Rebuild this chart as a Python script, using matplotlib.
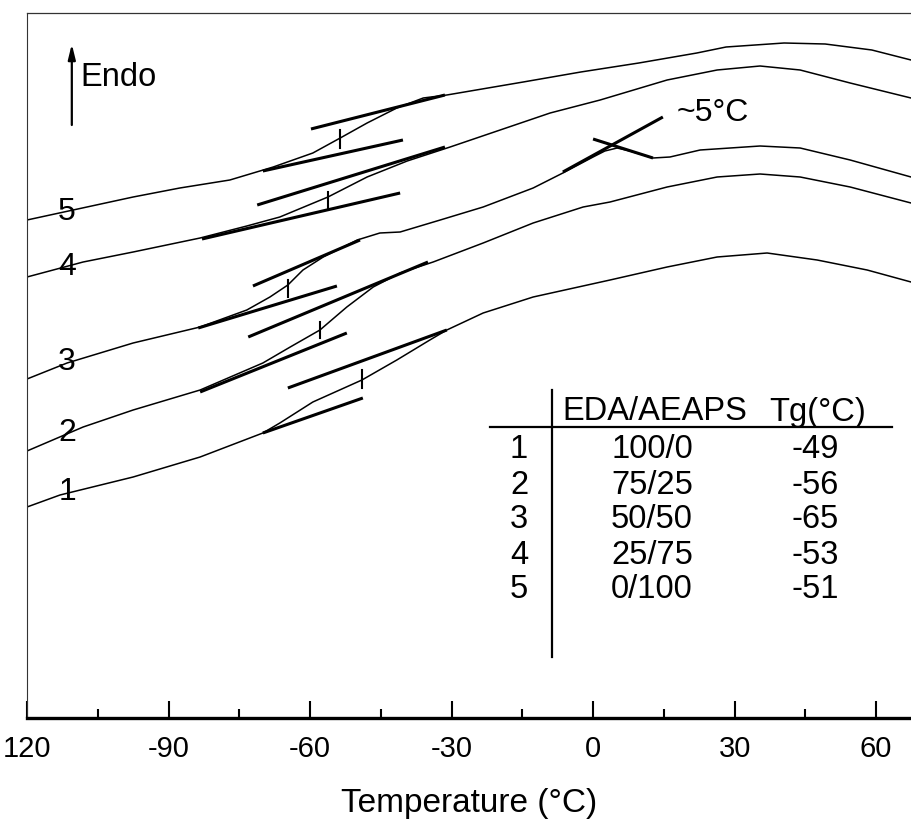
import matplotlib
matplotlib.use("Agg")
import matplotlib.pyplot as plt
from matplotlib.ticker import MultipleLocator

plt.rcParams['font.family'] = ['Liberation Sans', 'DejaVu Sans']

# DSC curves (temperature in degC, heat flow in arbitrary units)
t1 = [-120, -113, -97.5, -83.3, -70.0, -66.4, -59.4, -49.0, -41.6, -34.6, -31.0, -23.3, -12.7, 3.6, 15.7, 26.3, 36.9, 47.5, 58.1, 67.4]
y1 = [211, 223, 241, 261, 285, 295, 316, 338, 358, 378, 388, 405, 421, 438, 451, 461, 465, 458, 448, 436]

t2 = [-120, -108.1, -97.5, -83.3, -70.0, -64.2, -57.9, -52.2, -46.6, -40.9, -33.9, -23.3, -12.7, -2.1, 3.6, 15.7, 26.3, 35.4, 43.9, 54.5, 67.4]
y2 = [267, 291, 308, 328, 355, 371, 388, 411, 431, 445, 456, 475, 495, 511, 516, 531, 541, 544, 541, 531, 515]

t3 = [-120, -111.5, -97.5, -83.3, -73.4, -68.5, -64.7, -61.5, -57.2, -50.0, -45.2, -40.9, -32.4, -23.3, -12.7, -6.4, 0.0, 2.5, 5.1, 7.8, 12.7, 16.3, 22.7, 35.4, 43.9, 54.5, 67.4]
y3 = [339, 355, 375, 391, 408, 421, 433, 448, 461, 478, 485, 486, 498, 511, 530, 545, 561, 567, 570, 567, 560, 561, 568, 572, 570, 558, 541]

t4 = [-120, -108.1, -97.5, -83.3, -73.4, -66.4, -56.2, -47.9, -39.4, -30.3, -19.7, -9.1, 1.5, 15.7, 26.3, 35.4, 43.9, 54.5, 67.4]
y4 = [441, 456, 466, 480, 492, 501, 521, 541, 557, 571, 588, 605, 618, 638, 648, 652, 648, 635, 620]

t5 = [-120, -97.5, -87.6, -77.0, -67.8, -59.4, -53.6, -47.9, -41.6, -36.0, -31.0, -14.8, -2.6, 9.7, 22.0, 28.2, 40.5, 49.2, 59.1, 67.4]
y5 = [498, 521, 530, 538, 551, 565, 580, 595, 610, 620, 623, 636, 646, 655, 665, 671, 675, 674, 668, 658]

curves_t = [t1, t2, t3, t4, t5]
curves_y = [y1, y2, y3, y4, y5]
curve_names = ["1", "2", "3", "4", "5"]
name_y = [226, 285, 356, 451, 506]

# tangent constructions: (T_start, y_start, T_end, y_end)
upper_tan = [(-64.7, 330, -31.0, 388), (-73.1, 381, -35.0, 456), (-72.1, 432, -49.4, 478),
             (-71.2, 513, -31.4, 571), (-59.8, 589, -31.4, 623)]
lower_tan = [(-70.0, 285, -48.8, 320), (-83.3, 326, -52.2, 385), (-83.7, 390, -54.3, 432),
             (-82.9, 479, -40.9, 525), (-70.0, 547, -40.3, 578)]
# Tg marks: (T, y_low, y_high)
tg_marks = [(-49.0, 330, 348), (-57.9, 380, 396), (-64.7, 421, 438), (-56.2, 510, 526), (-53.6, 570, 588)]
# melting construction on curve 3
melt_tan = [(-6.4, 546, 14.8, 601), (0.0, 579, 12.7, 560)]

# table
tab_ratio = ["100/0", "75/25", "50/50", "25/75", "0/100"]
tab_tg = ["-49", "-56", "-65", "-53", "-51"]

xticks = [-120, -90, -60, -30, 0, 30, 60]
xticklabels = ["120", "-90", "-60", "-30", "0", "30", "60"]

fig = plt.figure(figsize=(9.11, 8.21), dpi=100)
ax = fig.add_axes([27 / 911, 103 / 821, 884 / 911, 705 / 821])

for t, y in zip(curves_t, curves_y):
    ax.plot(t, y, color='k', lw=1.1)
for x0, y0, x1, y1_ in upper_tan + lower_tan + melt_tan:
    ax.plot([x0, x1], [y0, y1_], color='k', lw=2.2, solid_capstyle='butt')
for x, ya, yb in tg_marks:
    ax.plot([x, x], [ya, yb], color='k', lw=1.5)

for n, yy in zip(curve_names, name_y):
    ax.text(-111.5, yy, n, fontsize=23, ha='center', va='center')

ax.text(17.8, 605, "~5°C", fontsize=23, ha='left', va='center')

# Endo arrow
ax.annotate("", xy=(-110.5, 674), xytext=(-110.5, 593),
            arrowprops=dict(arrowstyle='-|>,head_length=0.9,head_width=0.22',
                            color='k', lw=1.6, shrinkA=0, shrinkB=0))
ax.text(-108.6, 640, "Endo", fontsize=23.5, ha='left', va='center')

# table
ax.plot([-21.8, 63.4], [291, 291], color='k', lw=1.6)
ax.plot([-8.7, -8.7], [328, 61], color='k', lw=1.6)
ax.text(13.1, 306, "EDA/AEAPS", fontsize=23.5, ha='center', va='center')
ax.text(47.5, 306, "Tg(°C)", fontsize=23.5, ha='center', va='center')
row_y = [268, 233, 198, 163, 128]
for i in range(5):
    ax.text(-15.7, row_y[i], curve_names[i], fontsize=23.5, ha='center', va='center')
    ax.text(12.5, row_y[i], tab_ratio[i], fontsize=23.5, ha='center', va='center')
    ax.text(47.1, row_y[i], tab_tg[i], fontsize=23.5, ha='center', va='center')

ax.set_xlim(-120, 67.4)
ax.set_ylim(0, 705)
ax.set_xticks(xticks)
ax.set_xticklabels(xticklabels)
ax.xaxis.set_minor_locator(MultipleLocator(15))
ax.set_yticks([])
ax.tick_params(axis='x', which='major', direction='in', length=12, width=1.5, pad=12, labelsize=21)
ax.tick_params(axis='x', which='minor', direction='in', length=6.5, width=1.5)
ax.spines['right'].set_visible(False)
ax.spines['bottom'].set_linewidth(2.4)
ax.spines['left'].set_linewidth(0.8)
ax.spines['top'].set_linewidth(0.9)
ax.spines['left'].set_color('#333333')
ax.spines['top'].set_color('#333333')
ax.set_xlabel("Temperature (°C)", fontsize=24, labelpad=18)

fig.savefig("out.png", dpi=100)
